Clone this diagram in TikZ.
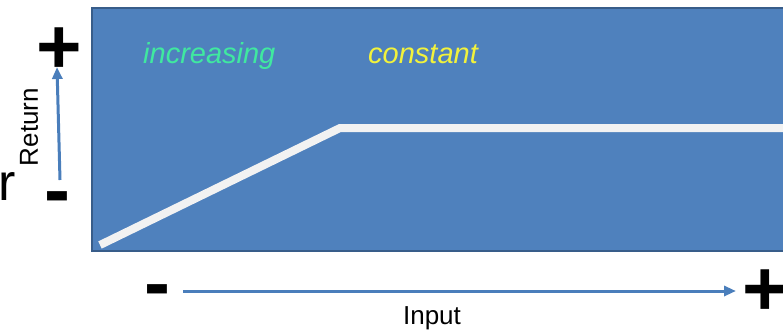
\documentclass[tikz,border=0pt]{standalone}
\usepackage{fontspec}
\setmainfont{Liberation Sans}
\usetikzlibrary{arrows.meta}
\definecolor{panelblue}{HTML}{4F81BD}
\definecolor{panelborder}{HTML}{385D8A}
\definecolor{arrowblue}{HTML}{4A7EBB}
\definecolor{incgreen}{HTML}{40E8A0}
\definecolor{constyellow}{HTML}{F2F23C}
\definecolor{curvewhite}{HTML}{F2F2F2}
\tikzset{
  lbl/.style={inner sep=0pt, font=\fontsize{29}{31}\selectfont\itshape},
  sign/.style={inner sep=0pt, font=\fontsize{78}{78}\selectfont\bfseries},
  axislbl/.style={inner sep=0pt, font=\fontsize{26}{28}\selectfont},
  axisarrow/.style={draw=arrowblue, line width=3pt, -{Triangle[length=12pt,width=10pt]}}
}
\begin{document}
\begin{tikzpicture}[x=1pt,y=1pt]
\useasboundingbox (0,0) rectangle (783,333);
\clip (0,0) rectangle (783,333);
% panel
\path[fill=panelblue, draw=panelborder, line width=2pt] (92,82) rectangle (800,325);
% curve
\coordinate (c0) at (100,88);
\coordinate (c1) at (340,205);
\coordinate (c2) at (800,205);
\draw[curvewhite, line width=8pt, line join=miter] (c0) -- (c1) -- (c2);
% labels in panel
\node[lbl, text=incgreen, anchor=base west] (inc) at (143,270) {increasing};
\node[lbl, text=constyellow, anchor=base west] (const) at (368,270) {constant};
% vertical axis
\node[sign] (yplus) at (59,282) {+};
\node[sign] (yminus) at (57,129) {-};
\coordinate (ya) at (60,153);
\coordinate (yb) at (57,266);
\draw[axisarrow] (ya) -- (yb);
\node[axislbl, rotate=90] (ret) at (29,206) {Return};
\node[inner sep=0pt, anchor=base west, font=\fontsize{52}{54}\selectfont] (rr) at (-1.5,133) {r};
% horizontal axis
\node[sign] (xminus) at (157,36) {-};
\node[sign] (xplus) at (765,40) {+};
\coordinate (xa) at (183,42);
\coordinate (xb) at (736,42);
\draw[axisarrow] (xa) -- (xb);
\node[axislbl] (inp) at (432,15) {Input};
\end{tikzpicture}
\end{document}
